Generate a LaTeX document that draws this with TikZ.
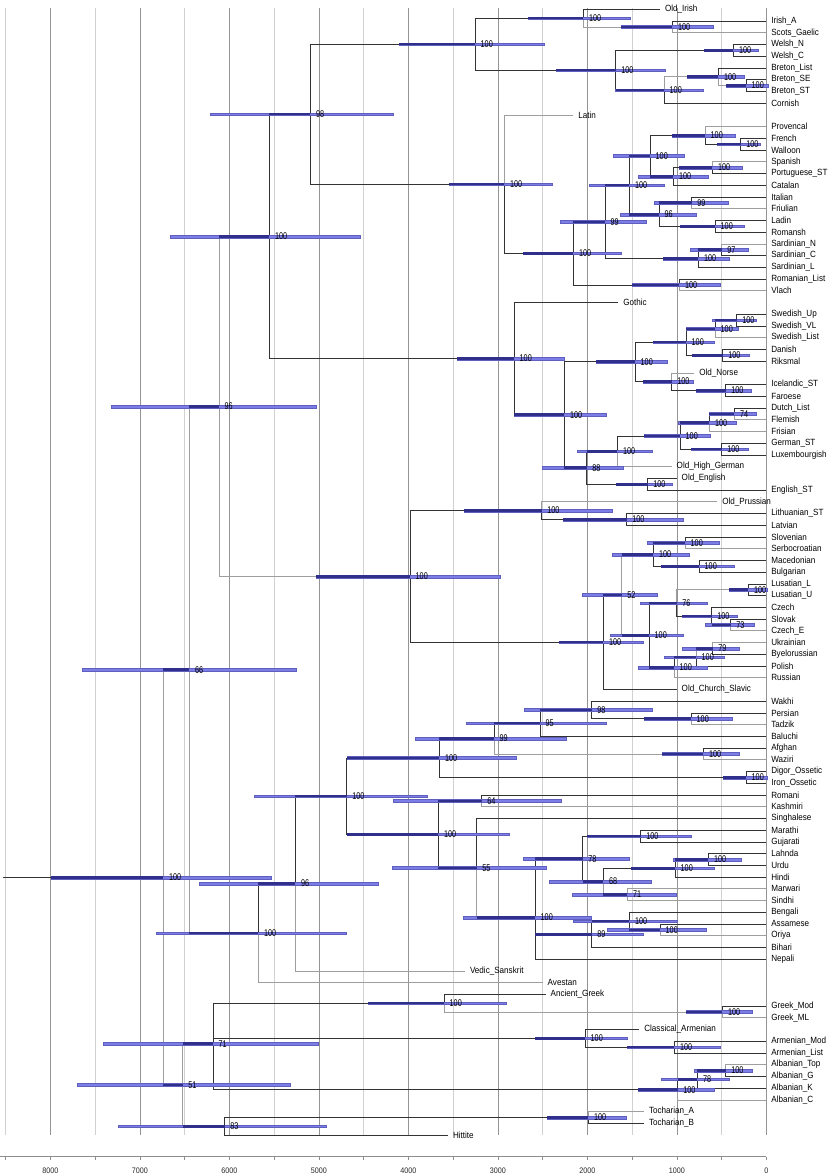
\documentclass[tikz,border=0pt]{standalone}
\usepackage{fontspec}
\newfontfamily\leaffont{Liberation Sans}[FakeStretch=0.9]
\newfontfamily\suppfont{Liberation Sans}[FakeStretch=0.74]
\definecolor{hpdfill}{RGB}{125,125,232}
\definecolor{hpdline}{RGB}{95,95,190}
\definecolor{hpddark}{RGB}{48,48,140}
\tikzset{%
	branch/.style   = {draw=black!80, line width=0.6pt},
	branchg/.style  = {draw=black!38, line width=0.6pt},
	leaf/.style     = {anchor=west, inner xsep=4.8pt, inner ysep=0pt, font=\leaffont\fontsize{9}{10}\selectfont},
	support/.style  = {anchor=west, inner sep=0pt, xshift=5.5pt, font=\suppfont\fontsize{9.8}{10}\selectfont},
	hpd/.style      = {fill=hpdfill, draw=hpdline, line width=0.3pt},
	hpdstem/.style  = {fill=hpddark},
	gridmajor/.style= {draw=black!42, line width=0.5pt},
	gridminor/.style= {draw=black!18, line width=0.5pt},
	axis/.style     = {draw=black!45, line width=1pt},
	ticklab/.style  = {inner sep=0pt, text=black!85, font=\leaffont\fontsize{8}{9}\selectfont},
}
% clade: name/x/y/hpd left/hpd right/stem start/support
\def\cladelist{root/163.3/75.03/51/270.7/51/100,
n66/189.3/57.32/81.7/295.7/163.3/66, n96a/219/34.87/111/315.7/189.3/96,
n100a/269.3/20.37/170/360/219/100, n98/310.3/9.94/210/392.7/269.3/98,
celt/475/3.97/399.3/544.3/399.3/100, goid/583.3/1.75/528/630/528/100,
irsc/672.3/2.5/621/713/621/100, bryth/615.7/6.19/556/665/556/100,
welsh/733.3/4.5/704/757.7/704/100, brco/664/7.88/615/703.3/615.7/100,
breton/718.3/6.75/686.7/744.3/686.7/100, brsest/746/7.5/726/768/726/100,
italic/504.3/15.91/449.3/551.7/449.3/100, romance/573.3/21.81/523.3/620.7/523.3/100,
n99r/605/19.13/560/645.7/573.3/99, wrom/629.3/16/589.3/664/605/100,
galib/650/13.5/613.3/684/629.3/100, gallo/705/11.75/671.7/735/671.7/100,
frwa/740.7/12.5/716.7/760/716.7/100, ibero/673.3/15.25/637.7/708.3/650/100,
sppo/712.3/14.5/679/742.3/679/100, n96r/659/18.5/620/695.7/629.3/96,
itfr/691.7/17.5/654/728.3/659/99, laro/715/19.5/680/744.3/680/100,
sard/698.3/22.25/662.7/729.3/662.7/100, sardnc/721.7/21.5/690/748.3/698.3/97,
rovl/679.3/24.5/631.7/720/631.7/100,
germ/514/30.79/456.7/564.3/456.7/100, nwgerm/564.3/35.58/514/605.7/514/100,
ngerm/635/31.06/595.7/667.3/595.7/100, escand/686/29.38/652.7/714.3/652.7/100,
swed/715/28.25/686/738.3/686/100, swupvl/736.7/27.5/712.3/756/715/100,
dari/722.7/30.5/692.3/749.3/692.3/100, insular/671.7/32.75/643.3/692.7/643.3/100,
icfa/725.7/33.5/695.7/750.7/695.7/100, wgerm/586.7/40.09/542.3/623.3/564.3/88,
n100w/617.3/38.69/577.3/651.7/586.7/100, contwg/680/37.38/644.3/710/644.3/100,
duflfr/709.3/36.25/677.7/735.7/680/100, dufl/734.3/35.5/709/755.7/709.3/74,
gelu/721.7/38.5/691/747.7/691/100, oeen/647.7/41.5/615.7/672.3/615.7/100,
balsla/410/49.36/315.7/500/315.7/100, baltic/541.7/43.75/464.3/612.3/464.3/100,
lila/626.7/44.5/563.3/682.7/563.3/100, slavic/603.3/54.97/559.3/643.3/559.3/100,
n52/621.7/50.94/582.3/657.3/603.3/52, sslav/653.3/47.5/612.3/689.3/621.7/100,
slse/685/46.5/646.7/719.3/653.3/100, mabu/699/48.5/661/734.3/661/100,
wesl/649/54.38/610/683.3/621.7/100, wslav/676.7/51.63/640/707.3/649/76,
lusat/748.3/50.5/729/766.7/729/100, czsk/711.7/52.75/681.7/737.3/681.7/100,
skcze/730.7/53.5/705/754/711.7/73, eslav/674/57.13/638.3/706.7/649/100,
ukbypo/696/56.25/664.3/724.3/674/100, ukby/712.7/55.5/681.7/739.3/696/79,
n100b/258.3/79.78/156/345.7/189.3/100, n96b/295.3/75.55/199.3/378.3/258.3/96,
indoir/346.7/68.1/254.3/426.7/295.3/100, iran/439.3/64.84/347/516/347/100,
n99i/494/63.19/415/565.7/439.3/99, n95/540/61.88/466/605.7/494/95,
n98i/591.7/60.75/524/651.7/540/98, peta/691/61.5/644.3/731.7/644.3/100,
afwa/703.3/64.5/662.3/739.3/662.3/100, osset/746/66.5/723.3/766.7/723.3/100,
indic/438.3/71.36/347/509.3/347/100, n64/481.7/68.5/393.3/561/438.3/64,
n55/476.7/74.22/392.3/545.7/438.3/55, n100c/535/78.44/463.3/590.7/476.7/100,
n78/582.7/73.44/522.7/629.3/535/78, magu/640.7/71.5/587.3/690.7/587.3/100,
n68/603.3/75.38/549.3/650.7/582.7/68, hind/675/74.25/630.7/714.3/630.7/100,
laur/708.3/73.5/672.7/740.7/675/100, n71i/627.3/76.5/572.3/676/603.3/71,
n89/591.7/79.88/535/643.3/535/89, beasor/629.3/78.75/573.3/676.7/591.7/100,
asor/660/79.5/606.7/705.7/629.3/100,
n51/182.7/92.73/77.3/289.7/163.3/51, n71/213/89.21/102.7/317.7/182.7/71,
greek/444/85.75/368.3/505.7/368.3/100, grmo/722.3/86.5/686/751.7/686/100,
armen/585/88.75/535/626.7/535/100, armoli/674.3/89.5/627.3/720/627.3/100,
alban/677.7/93.13/637.7/714.3/637.7/100, n78a/697.3/92.25/661/729.3/677.7/78,
altopg/725.7/91.5/694.3/751.7/697.3/100, n83/224.7/96.25/118.3/326/182.7/83,
tochar/588.3/95.5/546.7/626/546.7/100}

\begin{document}
\begin{tikzpicture}
	\useasboundingbox (0,0) rectangle (830pt,-1176pt);
	\begin{scope}[x=1pt, y=-11.726pt, yshift=2.43pt]
	% time grid and axis
	\foreach \a in {500,1500,...,8500}
		\draw[gridminor] ({766.3-0.0895*\a},0.89) -- ({766.3-0.0895*\a},97);
	\foreach \a in {0,1000,...,8000}
		\draw[gridmajor] ({766.3-0.0895*\a},0.89) -- ({766.3-0.0895*\a},97);
	\draw[axis] (0,98.85) -- (766.3,98.85);
	\foreach \a in {0,500,...,8500}
		\draw[axis, line width=0.5pt] ({766.3-0.0895*\a},98.85) -- ++(0pt,-3pt);
	\foreach \a in {0,1000,...,8000}
		\node[ticklab] (t\a) at ({766.3-0.0895*\a},100.05) {\a};

	% taxa
	\foreach \n/\i/\t/\txt in {oldirish/1/660/Old\_Irish, irisha/2/766.3/Irish\_A, scots/3/766.3/Scots\_Gaelic,
		welshn/4/766.3/Welsh\_N, welshc/5/766.3/Welsh\_C, bretonlist/6/766.3/Breton\_List,
		bretonse/7/766.3/Breton\_SE, bretonst/8/766.3/Breton\_ST, cornish/9/766.3/Cornish,
		latin/10/573.3/Latin, provencal/11/766.3/Provencal, french/12/766.3/French,
		walloon/13/766.3/Walloon, spanish/14/766.3/Spanish, portuguese/15/766.3/Portuguese\_ST,
		catalan/16/766.3/Catalan, italian/17/766.3/Italian, friulian/18/766.3/Friulian,
		ladin/19/766.3/Ladin, romansh/20/766.3/Romansh, sardn/21/766.3/Sardinian\_N,
		sardc/22/766.3/Sardinian\_C, sardl/23/766.3/Sardinian\_L, romanian/24/766.3/Romanian\_List,
		vlach/25/766.3/Vlach, gothic/26/618.3/Gothic, swedishup/27/766.3/Swedish\_Up,
		swedishvl/28/766.3/Swedish\_VL, swedishlist/29/766.3/Swedish\_List, danish/30/766.3/Danish,
		riksmal/31/766.3/Riksmal, oldnorse/32/694.3/Old\_Norse, icelandic/33/766.3/Icelandic\_ST,
		faroese/34/766.3/Faroese, dutch/35/766.3/Dutch\_List, flemish/36/766.3/Flemish,
		frisian/37/766.3/Frisian, german/38/766.3/German\_ST, luxembourgish/39/766.3/Luxembourgish,
		ohg/40/671.7/Old\_High\_German, oldenglish/41/676.7/Old\_English, english/42/766.3/English\_ST,
		oldprussian/43/717.3/Old\_Prussian, lithuanian/44/766.3/Lithuanian\_ST, latvian/45/766.3/Latvian,
		slovenian/46/766.3/Slovenian, serbocroatian/47/766.3/Serbocroatian, macedonian/48/766.3/Macedonian,
		bulgarian/49/766.3/Bulgarian, lusatianl/50/766.3/Lusatian\_L, lusatianu/51/766.3/Lusatian\_U,
		czech/52/766.3/Czech, slovak/53/766.3/Slovak, czeche/54/766.3/Czech\_E,
		ukrainian/55/766.3/Ukrainian, byelorussian/56/766.3/Byelorussian, polish/57/766.3/Polish,
		russian/58/766.3/Russian, ocs/59/676.7/Old\_Church\_Slavic, wakhi/60/766.3/Wakhi,
		persian/61/766.3/Persian, tadzik/62/766.3/Tadzik, baluchi/63/766.3/Baluchi,
		afghan/64/766.3/Afghan, waziri/65/766.3/Waziri, digor/66/766.3/Digor\_Ossetic,
		iron/67/766.3/Iron\_Ossetic, romani/68/766.3/Romani, kashmiri/69/766.3/Kashmiri,
		singhalese/70/766.3/Singhalese, marathi/71/766.3/Marathi, gujarati/72/766.3/Gujarati,
		lahnda/73/766.3/Lahnda, urdu/74/766.3/Urdu, hindi/75/766.3/Hindi,
		marwari/76/766.3/Marwari, sindhi/77/766.3/Sindhi, bengali/78/766.3/Bengali,
		assamese/79/766.3/Assamese, oriya/80/766.3/Oriya, bihari/81/766.3/Bihari,
		nepali/82/766.3/Nepali, vedic/83/465/Vedic\_Sanskrit, avestan/84/542.7/Avestan,
		ancientgreek/85/545.7/Ancient\_Greek, greekmod/86/766.3/Greek\_Mod, greekml/87/766.3/Greek\_ML,
		classicalarmenian/88/639.3/Classical\_Armenian, armenianmod/89/766.3/Armenian\_Mod,
		armenianlist/90/766.3/Armenian\_List, albaniantop/91/766.3/Albanian\_Top,
		albaniang/92/766.3/Albanian\_G, albaniank/93/766.3/Albanian\_K, albanianc/94/766.3/Albanian\_C,
		tochariana/95/644/Tocharian\_A, tocharianb/96/644/Tocharian\_B, hittite/97/448/Hittite}
		\node[leaf] (\n) at (\t,\i) {\txt};

	% clades
	\foreach \n/\x/\y/\l/\r/\d/\s in \cladelist
		\coordinate (\n) at (\x,\y);
	\coordinate (rootstem) at (2.7,75.03);
	\draw[branch] (rootstem) -- (root);

	\foreach \p/\c in {n100a/n98, n100a/germ, n98/celt, n98/italic, celt/goid, celt/bryth,
		goid/oldirish, irsc/irisha, bryth/welsh, bryth/brco, welsh/welshn, welsh/welshc,
		brco/cornish, breton/bretonlist, brsest/bretonse, brsest/bretonst,
		italic/romance, romance/n99r, romance/rovl, rovl/romanian, n99r/wrom, n99r/sard,
		wrom/galib, wrom/n96r, galib/gallo, galib/ibero, gallo/frwa, frwa/french, frwa/walloon,
		ibero/sppo, ibero/catalan, sppo/portuguese, n96r/itfr, n96r/laro, itfr/italian,
		laro/ladin, laro/romansh, sard/sardnc, sard/sardl, sardnc/sardc,
		germ/gothic, germ/nwgerm, nwgerm/ngerm, nwgerm/wgerm, ngerm/escand, ngerm/insular,
		escand/swed, escand/dari, swed/swupvl, swupvl/swedishup, swupvl/swedishvl,
		dari/danish, dari/riksmal, insular/icfa, icfa/icelandic, icfa/faroese,
		wgerm/n100w, wgerm/oeen, n100w/contwg, contwg/duflfr, contwg/gelu, duflfr/dufl,
		dufl/dutch, gelu/german, gelu/luxembourgish, oeen/oldenglish, oeen/english,
		balsla/baltic, balsla/slavic, baltic/lila, lila/lithuanian, lila/latvian,
		slavic/n52, slavic/ocs, sslav/slse, sslav/mabu, slse/slovenian, mabu/macedonian,
		mabu/bulgarian, wesl/wslav, wesl/eslav, wslav/czsk, lusat/lusatianl, lusat/lusatianu,
		czsk/czech, czsk/skcze, skcze/slovak, eslav/ukbypo, ukbypo/polish, ukby/byelorussian,
		n100b/n96b, n96b/indoir, indoir/iran, indoir/indic, iran/n99i, iran/osset,
		n99i/n95, n95/n98i, n95/baluchi, n98i/wakhi, n98i/peta, peta/persian,
		afwa/afghan, osset/digor, osset/iron, indic/n64, indic/n55, n64/romani,
		n55/singhalese, n100c/n78, n100c/n89, n100c/nepali, n78/magu, n78/n68,
		magu/marathi, magu/gujarati, n68/hind, hind/laur, hind/hindi, laur/lahnda, laur/urdu,
		n89/beasor, n89/bihari, beasor/bengali, beasor/asor, asor/assamese,
		n71/greek, n71/armen, n71/alban, greek/ancientgreek, grmo/greekmod,
		armen/classicalarmenian, armen/armoli, armoli/armenianmod, armoli/armenianlist,
		alban/n78a, n78a/altopg, n78a/albaniank, altopg/albaniang, n83/tochar, n83/hittite,
		tochar/tocharianb}
		\draw[branch] (\p) |- (\c);
	\foreach \p/\c in {root/n66, root/n51, n66/n96a, n66/n100b, n96a/n100a, n96a/balsla,
		goid/irsc, irsc/scots, brco/breton, breton/brsest, italic/latin, gallo/provencal,
		sppo/spanish, itfr/friulian, sardnc/sardn, rovl/vlach, swed/swedishlist,
		insular/oldnorse, n100w/ohg, duflfr/frisian, dufl/flemish, baltic/oldprussian,
		n52/sslav, n52/wesl, slse/serbocroatian, wslav/lusat, skcze/czeche,
		eslav/russian, ukbypo/ukby, ukby/ukrainian, n100b/avestan, n96b/vedic,
		n99i/afwa, afwa/waziri, peta/tadzik, n64/kashmiri, n55/n100c, n68/n71i,
		n71i/marwari, n71i/sindhi, asor/oriya, greek/grmo, grmo/greekml,
		alban/albanianc, altopg/albaniantop, n51/n71, n51/n83, tochar/tochariana}
		\draw[branchg] (\p) |- (\c);

	% age intervals and posterior support
	\foreach \n/\x/\y/\l/\r/\d/\s in \cladelist {
		\path[hpd] ([yshift=1.3pt]\l,\y) rectangle ([yshift=-1.3pt]\r,\y);
		\path[hpdstem] ([yshift=1.3pt]\d,\y) rectangle ([yshift=-1.3pt]\x,\y);
		\node[support] (s\n) at (\x,\y) {\s};
	}
	\end{scope}
\end{tikzpicture}
\end{document}
